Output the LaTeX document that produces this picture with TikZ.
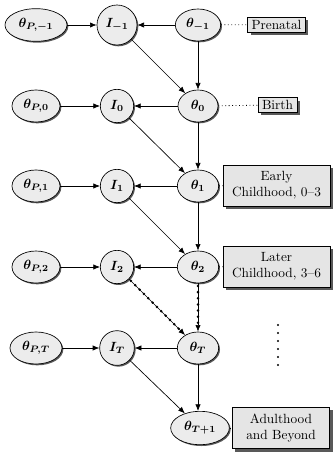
\documentclass[tikz,border=0pt]{standalone}
\usepackage{bm}
\usetikzlibrary{shapes.geometric,shadows,arrows.meta}
\begin{document}
\begin{tikzpicture}[x=0.75pt,y=-0.75pt,
  base/.style={draw=black, line width=0.5pt, fill=gray!15, inner sep=0pt,
    drop shadow={shadow xshift=1pt, shadow yshift=-1pt, fill=gray!70!black, opacity=1}},
  ell/.style={base, ellipse},
  circ/.style={base, circle},
  lab/.style={draw=black, line width=0.5pt, fill=gray!20, align=center, inner sep=3pt,
    drop shadow={shadow xshift=2.2pt, shadow yshift=-2.2pt, fill=gray!70!black, opacity=1}},
  arr/.style={-{Latex[length=5pt,width=4pt]}, line width=0.5pt},
  dotcon/.style={dotted, line width=0.6pt},
  bigdots/.style={line width=2.1pt, line cap=round, dash pattern=on 0pt off 4.6pt, shorten >=6pt, shorten <=2pt}
]
\useasboundingbox (0,0) rectangle (333,452);
% row -1
\node[ell, minimum width=46.5pt, minimum height=24.5pt] (pm1) at (36,25) {$\bm{\theta_{P,-1}}$};
\node[circ, minimum size=30pt] (im1) at (117,25) {$\bm{I_{-1}}$};
\node[ell, minimum width=34pt, minimum height=24pt] (tm1) at (198,25) {$\bm{\theta_{-1}}$};
% row 0
\node[ell, minimum width=36pt, minimum height=24pt] (p0) at (36,106) {$\bm{\theta_{P,0}}$};
\node[circ, minimum size=25pt] (i0) at (117,106) {$\bm{I_{0}}$};
\node[ell, minimum width=30pt, minimum height=24pt] (t0) at (198,106) {$\bm{\theta_{0}}$};
% row 1
\node[ell, minimum width=36pt, minimum height=24pt] (p1) at (36,186) {$\bm{\theta_{P,1}}$};
\node[circ, minimum size=25pt] (i1) at (117,186) {$\bm{I_{1}}$};
\node[ell, minimum width=31pt, minimum height=24pt] (t1) at (198,186) {$\bm{\theta_{1}}$};
% row 2
\node[ell, minimum width=36pt, minimum height=24pt] (p2) at (36,267) {$\bm{\theta_{P,2}}$};
\node[circ, minimum size=25pt] (i2) at (117,267) {$\bm{I_{2}}$};
\node[ell, minimum width=31pt, minimum height=24pt] (t2) at (198,267) {$\bm{\theta_{2}}$};
% row T
\node[ell, minimum width=39pt, minimum height=24pt] (pT) at (36,348) {$\bm{\theta_{P,T}}$};
\node[circ, minimum size=26pt] (iT) at (117,348) {$\bm{I_{T}}$};
\node[ell, minimum width=31pt, minimum height=24pt] (tT) at (198,348) {$\bm{\theta_{T}}$};
% row T+1
\node[ell, minimum width=44pt, minimum height=25pt] (tT1) at (200,428) {$\bm{\theta_{T+1}}$};
% labels
\node[lab, inner ysep=2pt] (prenatal) at (276.5,24.5) {Prenatal};
\node[lab, inner ysep=2pt] (birth) at (277.5,105) {Birth};
\node[lab, minimum width=80pt, minimum height=30.5pt] (early) at (276.5,185.5) {Early\\Childhood, 0--3};
\node[lab, minimum width=80pt, minimum height=30.5pt] (later) at (276.5,266.5) {Later\\Childhood, 3--6};
\node[lab, minimum width=73pt, minimum height=31pt] (adult) at (281,428) {Adulthood\\and Beyond};
% label connectors
\draw[dotcon] (tm1) -- (prenatal);
\draw[dotcon] (t0) -- (birth);
\draw[dotcon] (t1) -- (early);
\draw[dotcon] (t2) -- (later);
\draw[dotcon] (tT1) -- (adult);
% arrows
\draw[arr] (pm1) -- (im1);
\draw[arr] (tm1) -- (im1);
\draw[arr] (im1) -- (t0);
\draw[arr] (tm1) -- (t0);
\draw[arr] (p0) -- (i0);
\draw[arr] (t0) -- (i0);
\draw[arr] (i0) -- (t1);
\draw[arr] (t0) -- (t1);
\draw[arr] (p1) -- (i1);
\draw[arr] (t1) -- (i1);
\draw[arr] (i1) -- (t2);
\draw[arr] (t1) -- (t2);
\draw[arr] (p2) -- (i2);
\draw[arr] (t2) -- (i2);
\draw[arr] (i2) -- (tT);
\draw[arr] (t2) -- (tT);
\draw[bigdots] (i2) -- (tT);
\draw[bigdots] (t2) -- (tT);
\draw[arr] (pT) -- (iT);
\draw[arr] (tT) -- (iT);
\draw[arr] (iT) -- (tT1);
\draw[arr] (tT.south) -- (tT.south |- tT1.north);
% vertical dots
\foreach \k in {0,...,5} \fill (278,325+8*\k) circle (0.9pt);
\end{tikzpicture}
\end{document}
